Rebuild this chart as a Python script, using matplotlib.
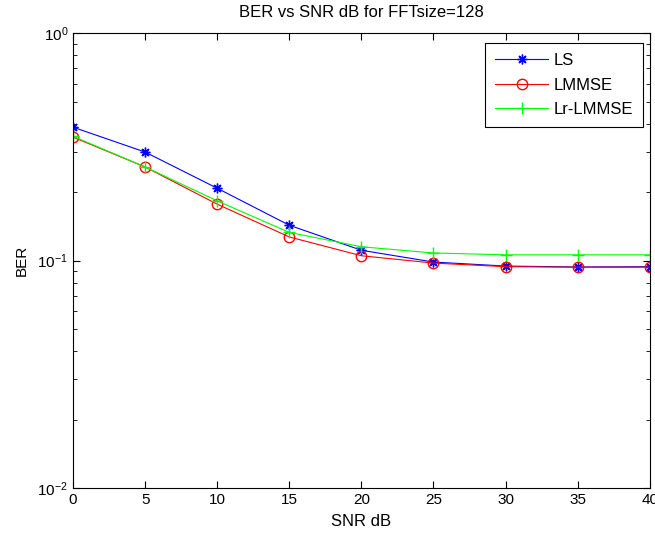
import matplotlib
matplotlib.use("Agg")
import matplotlib.pyplot as plt
from matplotlib.ticker import LogLocator

plt.rcParams['font.family'] = ['Liberation Sans', 'DejaVu Sans']
plt.rcParams['mathtext.fontset'] = 'custom'
plt.rcParams['mathtext.rm'] = 'Liberation Sans'
plt.rcParams['mathtext.it'] = 'Liberation Sans'

snr = [0, 5, 10, 15, 20, 25, 30, 35, 40]
ber_ls = [0.386, 0.300, 0.208, 0.143, 0.111, 0.0985, 0.0946, 0.0937, 0.094]
ber_lmmse = [0.349, 0.258, 0.177, 0.127, 0.105, 0.0975, 0.094, 0.0935, 0.0935]
ber_lr = [0.352, 0.258, 0.183, 0.133, 0.115, 0.108, 0.106, 0.106, 0.106]

fig = plt.figure(figsize=(6.55, 5.35), dpi=100)
ax = fig.add_axes([0.1115, 0.0879, 0.8805, 0.8501])

ax.semilogy(snr, ber_ls, color='#0000ff', marker=(8, 2, 0), markersize=7, lw=0.8, label='LS')
ax.semilogy(snr, ber_lmmse, color='#ff0000', marker='o', markersize=7.5, markerfacecolor='none', lw=0.8, label='LMMSE')
ax.semilogy(snr, ber_lr, color='#00ff00', marker='+', markersize=8, lw=0.8, label='Lr-LMMSE')

ax.set_xlim(0, 40)
ax.set_ylim(1e-2, 1e0)
ax.set_xticks(range(0, 41, 5))
ax.yaxis.set_minor_locator(LogLocator(base=10, subs=range(2, 10)))
ax.tick_params(which='both', direction='in', top=True, right=True, labelsize=11)
ax.tick_params(which='major', length=5)
ax.tick_params(which='minor', length=3)
for s in ax.spines.values():
    s.set_linewidth(0.8)

ax.set_title('BER vs SNR dB for FFTsize=128', fontsize=12, pad=12)
ax.set_xlabel('SNR dB', fontsize=12, labelpad=5)
ax.set_ylabel('BER', fontsize=11, labelpad=6)

leg = ax.legend(loc='upper right', bbox_to_anchor=(0.988, 0.978), borderaxespad=0,
                fontsize=12, fancybox=False, edgecolor='black', borderpad=0.6,
                framealpha=1, handlelength=3.2, handletextpad=0.3, labelspacing=0.57)
leg.get_frame().set_linewidth(0.8)

fig.savefig('out.png', dpi=100)
